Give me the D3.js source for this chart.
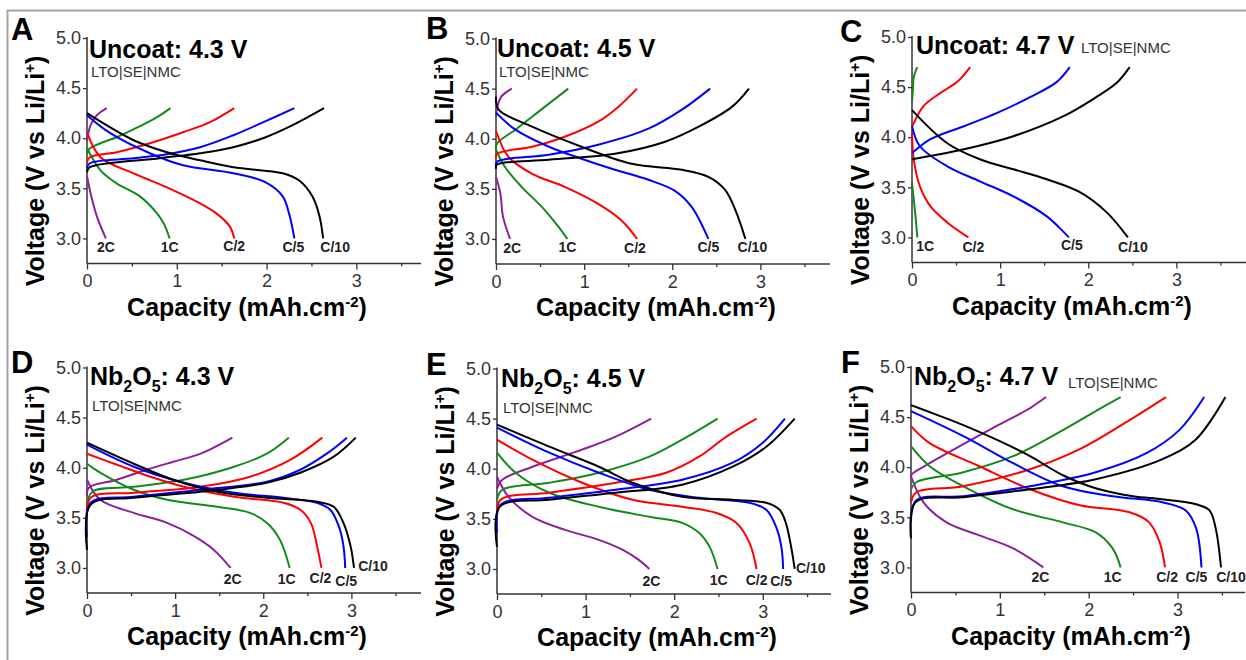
<!DOCTYPE html>
<html>
<head>
<meta charset="utf-8">
<script src="https://cdn.jsdelivr.net/npm/d3@7"></script>
<style>
  body { margin: 0; background: #fff; }
  svg { display: block; font-family: "Liberation Sans", Arial, sans-serif; }
</style>
</head>
<body>
<svg id="chart" width="1246" height="660"></svg>
<script>
// rates, same order in every data array below
var rates = ["2C", "1C", "C/2", "C/5", "C/10"];

// tick values
var voltTicks = [3.0, 3.5, 4.0, 4.5, 5.0];
var capTicks = [0, 1, 2, 3];
var capMinorTicks = [0.5, 1.5, 2.5, 3.5];

// [capacity mAh/cm2, voltage V]
var uncoat43Charge = [
  [[0,3.97],[0.01,4.03],[0.04,4.13],[0.11,4.23],[0.22,4.30]],
  [[0,3.84],[0.02,3.89],[0.15,3.95],[0.33,4.01],[0.59,4.12],[0.78,4.21],[0.93,4.30]],
  [[0,3.76],[0.03,3.81],[0.33,3.86],[0.70,3.95],[1.07,4.06],[1.37,4.16],[1.64,4.30]],
  [[0,3.70],[0.03,3.75],[0.52,3.80],[0.89,3.84],[1.26,3.91],[1.63,4.03],[1.99,4.17],[2.31,4.30]],
  [[0,3.66],[0.03,3.71],[0.81,3.80],[1.26,3.85],[1.63,3.91],[1.99,4.01],[2.29,4.13],[2.64,4.30]]
];
var uncoat43Discharge = [
  [[0,3.62],[0.04,3.45],[0.11,3.22],[0.21,3.0]],
  [[0,3.90],[0.15,3.68],[0.33,3.55],[0.59,3.42],[0.78,3.25],[0.86,3.14],[0.92,3.0]],
  [[0,4.06],[0.15,3.81],[0.52,3.65],[0.89,3.51],[1.26,3.35],[1.44,3.25],[1.59,3.12],[1.64,3.0]],
  [[0,4.23],[0.26,4.05],[0.70,3.85],[1.07,3.73],[1.63,3.65],[1.99,3.56],[2.18,3.42],[2.25,3.25],[2.31,3.0]],
  [[0,4.25],[0.52,3.98],[0.89,3.86],[1.26,3.78],[1.63,3.71],[2.18,3.65],[2.36,3.58],[2.51,3.42],[2.59,3.22],[2.63,3.0]]
];

var uncoat45Charge = [
  [[0,4.22],[0.01,4.30],[0.06,4.42],[0.18,4.50]],
  [[0,3.88],[0.01,3.95],[0.22,4.09],[0.41,4.22],[0.60,4.35],[0.82,4.50]],
  [[0,3.80],[0.01,3.85],[0.41,3.92],[0.78,4.02],[1.16,4.17],[1.39,4.32],[1.60,4.50]],
  [[0,3.72],[0.01,3.77],[0.60,3.84],[1.16,3.94],[1.73,4.10],[2.11,4.29],[2.43,4.50]],
  [[0,3.70],[0.01,3.74],[0.60,3.79],[1.35,3.85],[1.92,3.97],[2.30,4.12],[2.68,4.32],[2.87,4.50]]
];
var uncoat45Discharge = [
  [[0,3.62],[0.05,3.45],[0.08,3.22],[0.16,3.0]],
  [[0,3.89],[0.10,3.72],[0.29,3.52],[0.52,3.32],[0.71,3.12],[0.81,3.0]],
  [[0,4.08],[0.14,3.82],[0.41,3.65],[0.78,3.52],[1.16,3.35],[1.43,3.18],[1.60,3.0]],
  [[0,4.26],[0.22,4.09],[0.60,3.92],[0.97,3.80],[1.35,3.69],[1.73,3.59],[2.03,3.48],[2.22,3.32],[2.41,3.0]],
  [[0,4.42],[0.03,4.29],[0.41,4.12],[0.97,3.92],[1.54,3.75],[2.11,3.69],[2.41,3.62],[2.60,3.49],[2.72,3.28],[2.83,3.0]]
];

var uncoat47Charge = [
  null,
  [[0,4.35],[0.01,4.47],[0.02,4.60],[0.06,4.70]],
  [[0,4.10],[0.02,4.14],[0.13,4.31],[0.32,4.44],[0.51,4.55],[0.66,4.70]],
  [[0,3.84],[0.21,3.98],[0.59,4.11],[0.96,4.24],[1.34,4.40],[1.64,4.55],[1.79,4.70]],
  [[0,3.78],[0.59,3.88],[1.15,4.01],[1.72,4.21],[2.09,4.40],[2.32,4.54],[2.47,4.70]]
];
var uncoat47Discharge = [
  null,
  [[0,3.55],[0.04,3.21],[0.06,3.0]],
  [[0,4.04],[0.02,3.78],[0.09,3.51],[0.21,3.31],[0.40,3.15],[0.64,3.0]],
  [[0,4.11],[0.09,3.91],[0.40,3.71],[0.77,3.56],[1.15,3.41],[1.53,3.21],[1.78,3.0]],
  [[0,4.27],[0.40,3.94],[0.77,3.78],[1.15,3.68],[1.53,3.58],[1.91,3.45],[2.21,3.25],[2.45,3.0]]
];

var nb43Charge = [
  [[0,3.72],[0.02,3.80],[0.34,3.88],[0.64,3.97],[0.98,4.06],[1.29,4.14],[1.65,4.30]],
  [[0,3.61],[0.06,3.76],[0.53,3.81],[1.10,3.88],[1.67,4.01],[2.04,4.14],[2.29,4.30]],
  [[0,3.50],[0.04,3.70],[0.53,3.75],[1.29,3.81],[1.85,3.91],[2.31,4.08],[2.67,4.30]],
  [[0,3.31],[0.04,3.65],[0.53,3.71],[1.29,3.78],[2.04,3.86],[2.42,3.98],[2.72,4.14],[2.95,4.30]],
  [[0,3.18],[0.04,3.63],[0.53,3.70],[1.29,3.76],[2.04,3.85],[2.42,3.95],[2.80,4.11],[3.05,4.30]]
];
var nb43Discharge = [
  [[0,3.88],[0.15,3.68],[0.53,3.55],[0.91,3.45],[1.21,3.32],[1.44,3.18],[1.63,3.0]],
  [[0,4.04],[0.15,3.95],[0.53,3.78],[0.91,3.68],[1.48,3.61],[1.85,3.55],[2.04,3.45],[2.19,3.28],[2.30,3.0]],
  [[0,4.14],[0.34,4.03],[0.72,3.91],[1.10,3.81],[1.67,3.71],[2.23,3.65],[2.42,3.58],[2.54,3.45],[2.61,3.22],[2.66,3.0]],
  [[0,4.23],[0.53,4.01],[1.10,3.85],[1.67,3.75],[2.23,3.70],[2.61,3.65],[2.76,3.58],[2.86,3.41],[2.91,3.22],[2.93,3.0]],
  [[0,4.25],[0.53,4.04],[0.98,3.88],[1.48,3.76],[2.04,3.70],[2.61,3.66],[2.80,3.61],[2.91,3.45],[2.99,3.22],[3.03,3.0]]
];

var nb45Charge = [
  [[0,3.80],[0.06,3.89],[0.40,4.02],[0.96,4.19],[1.34,4.32],[1.74,4.50]],
  [[0,3.69],[0.06,3.79],[0.59,3.86],[1.15,3.96],[1.72,4.12],[2.09,4.29],[2.49,4.50]],
  [[0,3.52],[0.04,3.69],[0.59,3.76],[1.34,3.86],[1.91,3.96],[2.28,4.12],[2.59,4.32],[2.93,4.50]],
  [[0,3.36],[0.04,3.64],[0.59,3.71],[1.34,3.79],[2.09,3.89],[2.66,4.06],[3.00,4.26],[3.25,4.50]],
  [[0,3.22],[0.03,3.62],[0.59,3.69],[1.34,3.76],[2.09,3.84],[2.66,4.02],[3.04,4.22],[3.36,4.50]]
];
var nb45Discharge = [
  [[0,3.92],[0.13,3.72],[0.40,3.52],[0.77,3.39],[1.15,3.29],[1.42,3.19],[1.60,3.09],[1.72,3.0]],
  [[0,4.16],[0.21,3.96],[0.59,3.76],[1.15,3.62],[1.72,3.52],[2.09,3.46],[2.28,3.36],[2.40,3.22],[2.49,3.0]],
  [[0,4.29],[0.40,4.09],[0.96,3.86],[1.53,3.69],[2.09,3.62],[2.47,3.56],[2.70,3.46],[2.85,3.26],[2.93,3.0]],
  [[0,4.41],[0.59,4.16],[1.15,3.96],[1.72,3.79],[2.28,3.71],[2.85,3.66],[3.04,3.59],[3.15,3.42],[3.21,3.22],[3.23,3.0]],
  [[0,4.44],[0.59,4.22],[1.15,4.02],[1.53,3.86],[2.09,3.72],[2.66,3.69],[3.04,3.66],[3.19,3.59],[3.26,3.46],[3.32,3.22],[3.36,3.0]]
];

var nb47Charge = [
  [[0,3.90],[0.01,3.93],[0.21,4.04],[0.59,4.23],[0.96,4.41],[1.34,4.59],[1.52,4.70]],
  [[0,3.78],[0.06,3.85],[0.59,3.95],[1.15,4.11],[1.71,4.37],[2.08,4.56],[2.36,4.70]],
  [[0,3.65],[0.06,3.75],[0.59,3.81],[1.34,3.98],[1.90,4.18],[2.46,4.47],[2.87,4.70]],
  [[0,3.45],[0.06,3.67],[0.59,3.71],[1.34,3.81],[2.08,3.95],[2.65,4.14],[3.02,4.37],[3.30,4.70]],
  [[0,3.29],[0.05,3.65],[0.59,3.70],[1.34,3.78],[2.08,3.88],[2.83,4.08],[3.21,4.28],[3.54,4.70]]
];
var nb47Discharge = [
  [[0,3.91],[0.14,3.65],[0.40,3.45],[0.77,3.32],[1.15,3.19],[1.49,3.0]],
  [[0,4.21],[0.21,4.01],[0.59,3.81],[1.15,3.58],[1.71,3.45],[2.08,3.35],[2.27,3.19],[2.36,3.0]],
  [[0,4.41],[0.21,4.24],[0.77,4.01],[1.34,3.78],[1.90,3.62],[2.46,3.55],[2.68,3.45],[2.80,3.25],[2.86,3.0]],
  [[0,4.56],[0.59,4.31],[1.15,4.04],[1.71,3.81],[2.27,3.71],[2.83,3.65],[3.09,3.57],[3.21,3.39],[3.27,3.0]],
  [[0,4.62],[0.30,4.52],[0.59,4.42],[1.00,4.26],[1.34,4.11],[1.71,3.92],[2.08,3.79],[2.50,3.71],[2.83,3.68],[3.21,3.63],[3.36,3.57],[3.43,3.39],[3.49,3.0]]
];

/* ---------------- layout / style ---------------- */

var rateColors = ["#8e1f9c", "#138a1b", "#ff0000", "#0000ff", "#000000"];

// left = x of y axis, top = y of 5.0 V
var panels = [
  { letter: "A", coat: "Uncoat", volt: "4.3 V", left: 87, top: 38, xMax: 3.72,
    charge: uncoat43Charge, discharge: uncoat43Discharge,
    letterPos: [11, 40], titlePos: [89, 58], cellPos: [91, 77],
    labelOff: [[0,10],[0,10],[0,9],[-1,10],[12,10]] },
  { letter: "B", coat: "Uncoat", volt: "4.5 V", left: 496, top: 38.5, xMax: 3.79,
    charge: uncoat45Charge, discharge: uncoat45Discharge,
    letterPos: [426, 39], titlePos: [497, 57], cellPos: [499, 77],
    labelOff: [[2,10],[0,9],[-2,10],[0,9],[7,9]] },
  { letter: "C", coat: "Uncoat", volt: "4.7 V", left: 912, top: 37, xMax: 3.79,
    charge: uncoat47Charge, discharge: uncoat47Discharge,
    letterPos: [840, 42], titlePos: [916, 54], cellPos: [1081, 53],
    labelOff: [[0,10],[8,10],[5,11],[3,9],[5,11]] },
  { letter: "D", coat: "Nb", volt: "4.3 V", left: 87, top: 367.5, xMax: 3.79,
    charge: nb43Charge, discharge: nb43Discharge,
    letterPos: [11, 373], titlePos: [90, 385], cellPos: [92, 411],
    labelOff: [[2,12],[-3,12],[-1,11],[1,14],[19,-1]] },
  { letter: "E", coat: "Nb", volt: "4.5 V", left: 497, top: 368.5, xMax: 3.77,
    charge: nb45Charge, discharge: nb45Discharge,
    letterPos: [426, 375], titlePos: [501, 387], cellPos: [503, 413],
    labelOff: [[2,13],[1,12],[0,12],[-2,13],[16,0]] },
  { letter: "F", coat: "Nb", volt: "4.7 V", left: 911, top: 367, xMax: 3.76,
    charge: nb47Charge, discharge: nb47Discharge,
    letterPos: [841, 373], titlePos: [914, 385], cellPos: [1068, 388],
    labelOff: [[-3,11],[-8,11],[2,11],[-5,11],[10,11]] }
];

var axisWidth = 334;
var axisHeight = 225.5;

var svg = d3.select("#chart");

// outer frame of the figure
svg.append("path")
  .attr("d", "M7.5,660 V10.5 H1246")
  .attr("fill", "none")
  .attr("stroke", "#a3a3a3")
  .attr("stroke-width", 2);

panels.forEach(function (p) {
  var g = svg.append("g");

  var x = d3.scaleLinear()
    .domain([0, p.xMax])
    .range([p.left, p.left + axisWidth]);
  var y = d3.scaleLinear()
    .domain([2.75, 5.0])
    .range([p.top + axisHeight, p.top]);

  // y axis
  var yAxis = g.append("g")
    .attr("transform", "translate(" + p.left + ",0)")
    .call(d3.axisLeft(y).tickValues(voltTicks).tickFormat(d3.format(".1f")).tickSize(4).tickPadding(2));
  yAxis.select(".domain").attr("d", "M0," + y(2.75) + "V" + (p.top - 1));

  // x axis, major + minor
  var xAxis = g.append("g")
    .attr("transform", "translate(0," + y(2.75) + ")")
    .call(d3.axisBottom(x).tickValues(capTicks).tickFormat(d3.format("d")).tickSize(6).tickPadding(5));
  xAxis.select(".domain").attr("d", "M" + p.left + ",0H" + (p.left + axisWidth));
  g.append("g")
    .attr("transform", "translate(0," + y(2.75) + ")")
    .call(d3.axisBottom(x).tickValues(capMinorTicks).tickFormat("").tickSize(3))
    .select(".domain").remove();

  g.selectAll(".domain").attr("stroke", "#333").attr("stroke-width", 1.5);
  g.selectAll(".tick line").attr("stroke", "#333").attr("stroke-width", 1.3);
  g.selectAll(".tick text")
    .attr("fill", "#333")
    .style("font-size", "18px")
    .style("font-family", "'Liberation Sans', Arial, sans-serif");

  // curves
  var line = d3.line()
    .x(function (d) { return x(d[0]); })
    .y(function (d) { return y(d[1]); })
    .curve(d3.curveCatmullRom.alpha(0.5));

  rates.forEach(function (r, i) {
    [p.charge[i], p.discharge[i]].forEach(function (pts) {
      if (!pts) return;
      g.append("path")
        .attr("d", line(pts))
        .attr("fill", "none")
        .attr("stroke", rateColors[i])
        .attr("stroke-width", 2);
    });
  });

  // rate labels at discharge ends
  rates.forEach(function (r, i) {
    var pts = p.discharge[i];
    if (!pts) return;
    var end = pts[pts.length - 1];
    g.append("text")
      .attr("x", x(end[0]) + p.labelOff[i][0])
      .attr("y", y(end[1]) + p.labelOff[i][1])
      .attr("text-anchor", "middle")
      .attr("dominant-baseline", "middle")
      .style("font-size", "14px")
      .style("font-weight", "bold")
      .attr("fill", "#222")
      .text(r);
  });

  // panel letter
  g.append("text")
    .attr("x", p.letterPos[0])
    .attr("y", p.letterPos[1])
    .style("font-size", "31px")
    .style("font-weight", "bold")
    .text(p.letter);

  // title
  var t = g.append("text")
    .attr("x", p.titlePos[0])
    .attr("y", p.titlePos[1])
    .style("font-size", "25px")
    .style("font-weight", "bold");
  if (p.coat == "Nb") {
    t.append("tspan").text("Nb");
    t.append("tspan").attr("dy", 7).style("font-size", "16px").text("2");
    t.append("tspan").attr("dy", -7).text("O");
    t.append("tspan").attr("dy", 7).style("font-size", "16px").text("5");
    t.append("tspan").attr("dy", -7).text(": " + p.volt);
  } else {
    t.text(p.coat + ": " + p.volt);
  }

  g.append("text")
    .attr("x", p.cellPos[0])
    .attr("y", p.cellPos[1])
    .style("font-size", "15px")
    .attr("fill", "#333")
    .text("LTO|SE|NMC");

  // axis titles
  var yt = g.append("text")
    .attr("transform", "translate(" + (p.left - 43) + "," + (p.top + 133) + ") rotate(-90)")
    .attr("text-anchor", "middle")
    .style("font-size", "25px")
    .style("font-weight", "bold");
  yt.append("tspan").text("Voltage (V vs Li/Li");
  yt.append("tspan").attr("dy", -9).style("font-size", "15px").text("+");
  yt.append("tspan").attr("dy", 9).text(")");

  var xt = g.append("text")
    .attr("x", p.left + 160)
    .attr("y", y(2.75) + 52)
    .attr("text-anchor", "middle")
    .style("font-size", "25px")
    .style("font-weight", "bold");
  xt.append("tspan").text("Capacity (mAh.cm");
  xt.append("tspan").attr("dy", -9).style("font-size", "15px").text("-2");
  xt.append("tspan").attr("dy", 9).text(")");
});
</script>
</body>
</html>
